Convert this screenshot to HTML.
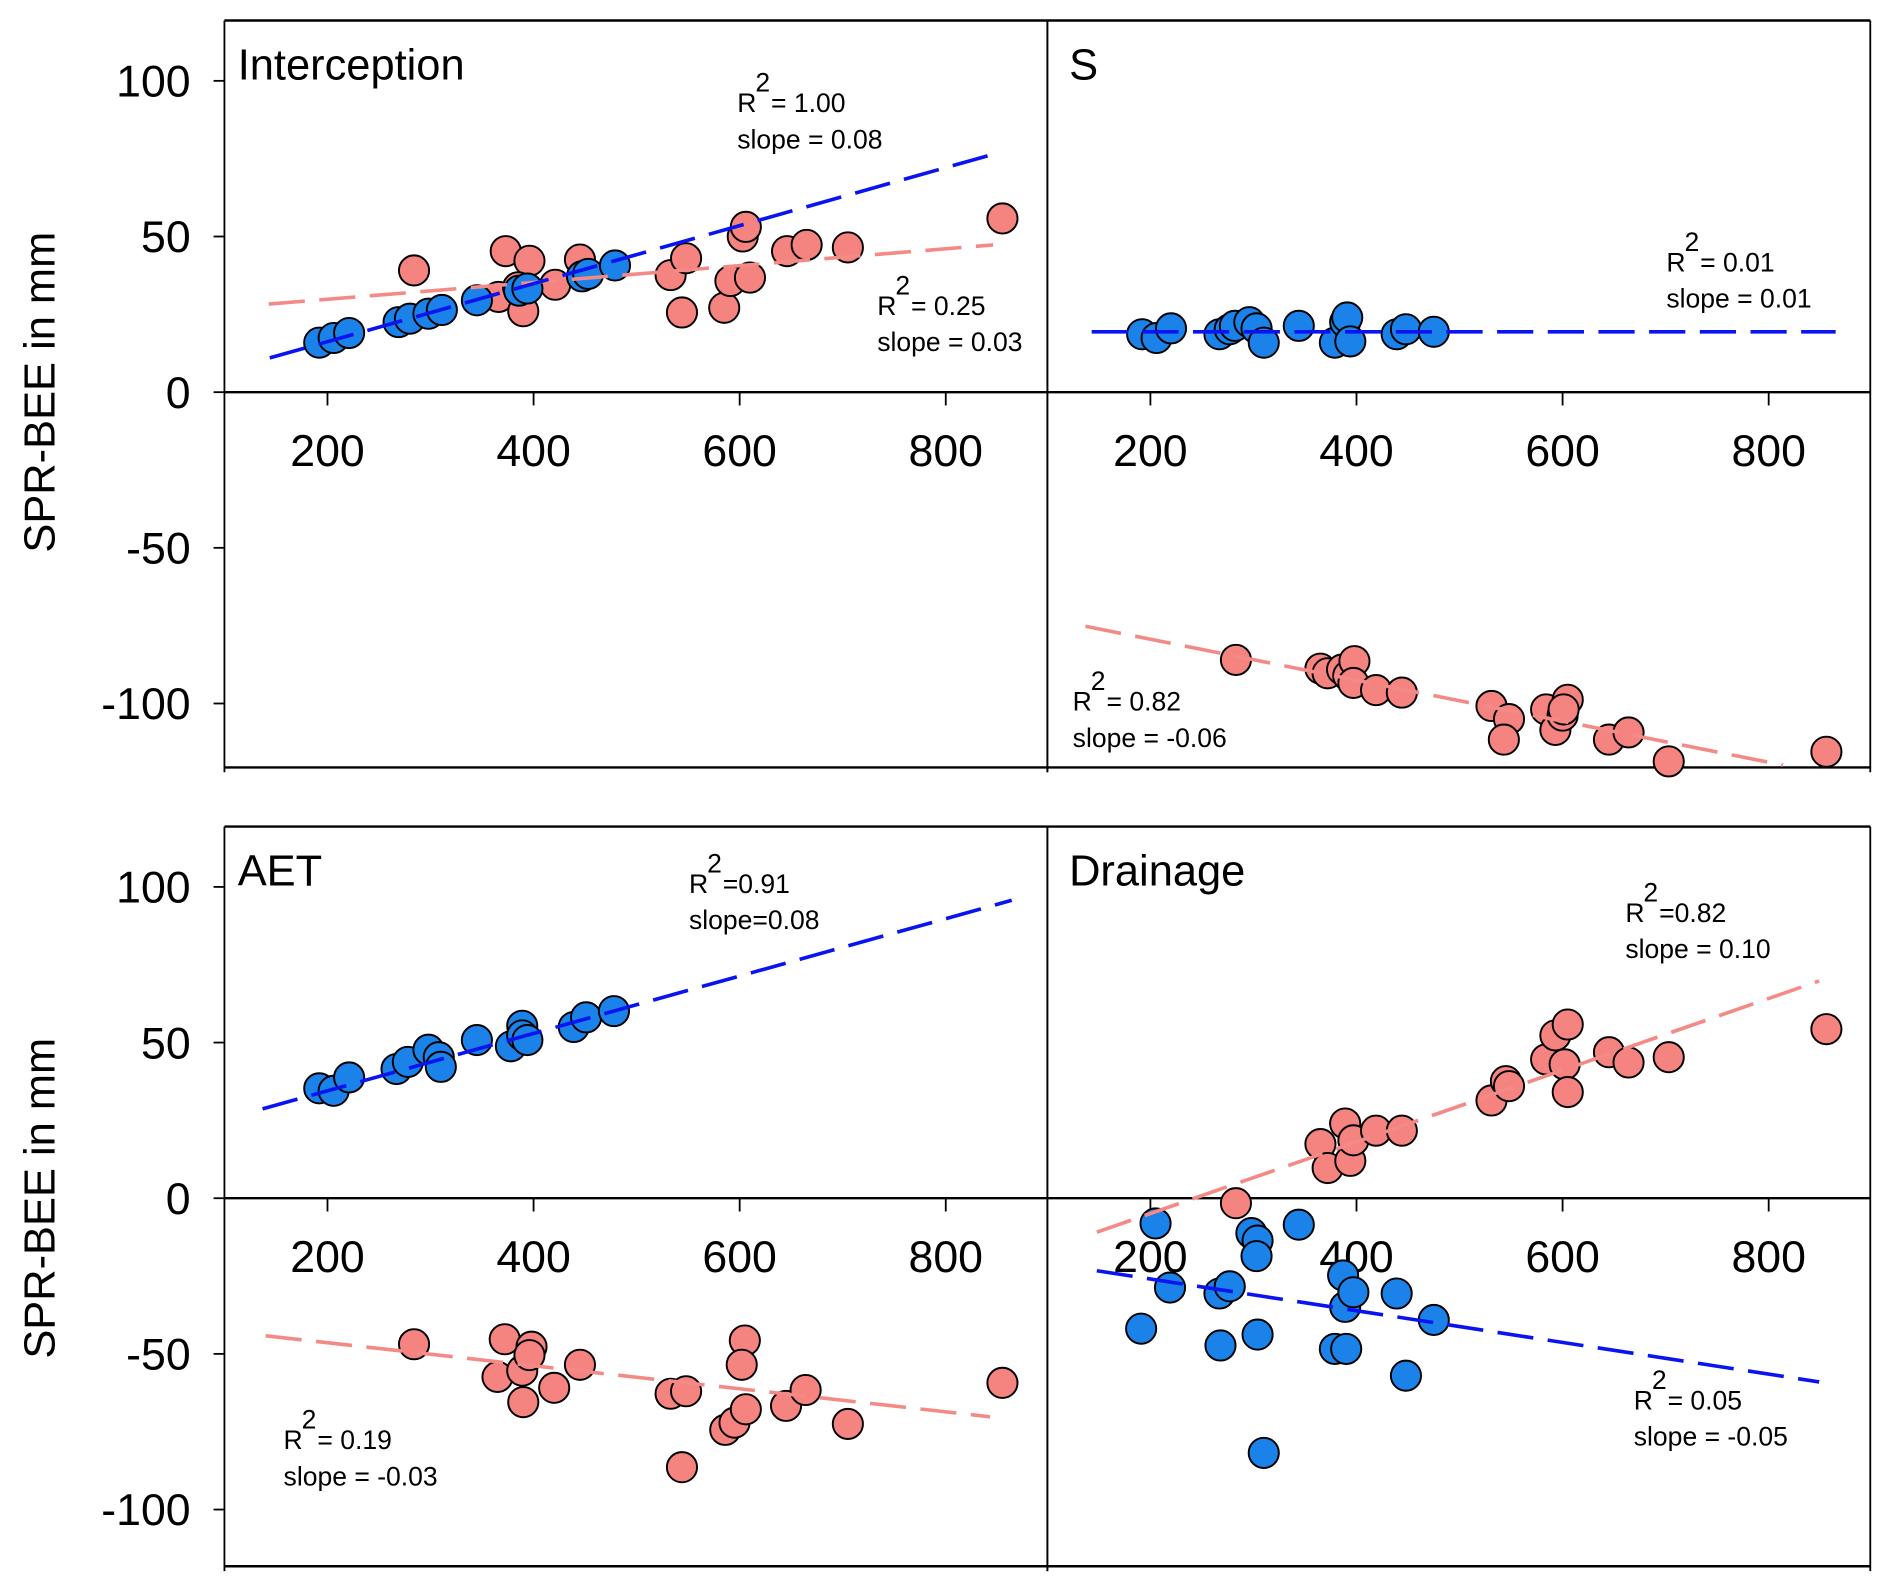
<!DOCTYPE html>
<html><head><meta charset="utf-8"><style>
html,body{margin:0;padding:0;background:#fff;}
svg{display:block;font-family:"Liberation Sans",Arial,sans-serif;}
</style></head><body>
<svg id="chart" width="1892" height="1591" viewBox="0 0 1568 1318.5" preserveAspectRatio="none" xmlns="http://www.w3.org/2000/svg"></svg>
<script>
const xTicks=[200,400,600,800];
const yTicks=[100,50,0,-50,-100];
// Interception
const intBlueX=[192,206,221,269,280,298,311,345,386,394,447,453,479];
const intBlueY=[15.9,17.4,19,22.5,23.6,25.2,26.4,29.5,32.6,33.3,37.2,38,40.7];
const intRedX=[284,373,396,366,390,385,421,445,533,548,544,585,603,606,591,646,665,705,855,610];
const intRedY=[39.1,45.3,42.2,30.6,26,33.7,34.5,42.6,37.6,43,25.6,27.1,50,53.1,35.7,45.3,47.3,46.5,55.8,36.8];
const intBlueFit=[[144,11],[849,76.7]];
const intRedFit=[[143,28.3],[846,47.3]];
// S
const sBlueX=[192,206,220,267,277,282,296,303,310,344,379,389,391,394,439,448,475];
const sBlueY=[18.6,17.4,20.5,18.6,20.2,21.3,22.5,20.5,15.9,21.3,15.9,22.5,24,16.3,18.6,20.2,19.4];
const sRedX=[283,365,372,386,392,398,397,419,444,531,548,543,584,593,600,605,601,645,664,703,856];
const sRedY=[-86,-88.8,-90.3,-89.1,-91.1,-86.4,-93.4,-95.7,-96.5,-100.8,-105,-111.6,-101.9,-108.5,-103.9,-98.8,-101.9,-111.6,-109.3,-118.6,-115.5];
const sBlueFit=[[143,19.4],[865,19.4]];
const sRedFit=[[137,-75.2],[814,-119.8]];
// AET
const aetBlueX=[192,206,221,267,278,298,308,310,345,378,389,389,394,439,451,478];
const aetBlueY=[35.3,34.5,38.8,41.5,43.8,47.7,45.3,42.2,50.8,48.8,55.4,52.3,50.8,55,58.1,60.1];
const aetRedX=[284,372,398,365,389,390,396,420,445,533,548,544,586,595,605,602,606,645,664,705,855];
const aetRedY=[-46.9,-45.3,-47.7,-57.4,-55.4,-65.5,-50.4,-60.9,-53.5,-62.8,-62,-86.4,-74.4,-72.1,-45.7,-53.5,-67.8,-66.7,-61.6,-72.5,-59.3];
const aetBlueFit=[[137,28.7],[864,95.7]];
const aetRedFit=[[140,-44.2],[843,-70.2]];
// Drainage
const drRedX=[283,365,372,389,394,397,419,444,531,545,548,584,593,602,605,605,645,664,703,856];
const drRedY=[-1.6,17.4,9.7,24,12,18.6,21.7,21.7,31.4,37.6,36,44.6,52.3,43,55.8,34.1,46.9,43.6,45.3,54.3];
const drBlueX=[205,219,191,267,277,268,298,304,303,344,387,389,397,304,379,390,439,448,475,310];
const drBlueY=[-8.1,-28.7,-41.9,-30.6,-28.3,-47.3,-11.2,-13.6,-18.6,-8.5,-24.8,-34.9,-30.2,-43.8,-48.4,-48.4,-30.6,-57,-39.1,-81.8];
const drRedFit=[[148,-10.9],[849,69.8]];
const drBlueFit=[[148,-23.3],[849,-59]];

const NS="http://www.w3.org/2000/svg";
const svg=document.getElementById('chart');
function el(tag,attrs,parent){const e=document.createElementNS(NS,tag);for(const k in attrs)e.setAttribute(k,attrs[k]);(parent||svg).appendChild(e);return e;}
function txt(str,attrs,parent){const e=el('text',attrs,parent);e.textContent=str;return e;}

const BLUE='#1a82e8',RED='#f58380',BL='#0a14f0',RL='#f48a86';
function xs(left){return v=>left+85.4+(v-200)*0.854;}
function ys(zero){return v=>zero-v*2.58;}

const panels=[
 {name:'interception',left:186,right:868,zero:325,top:17,bottom:636,title:'Interception',
  blue:[intBlueX,intBlueY],red:[intRedX,intRedY],bfit:intBlueFit,rfit:intRedFit,
  ann:[[611,93,'= 1.00','slope = 0.08'],[727,261,'= 0.25','slope = 0.03']]},
 {name:'s',left:868,right:1550,zero:325,top:17,bottom:636,title:'S',
  blue:[sBlueX,sBlueY],red:[sRedX,sRedY],bfit:sBlueFit,rfit:sRedFit,
  ann:[[1381,225,'= 0.01','slope = 0.01'],[889,589,'= 0.82','slope = -0.06']]},
 {name:'aet',left:186,right:868,zero:993,top:685,bottom:1298,title:'AET',
  blue:[aetBlueX,aetBlueY],red:[aetRedX,aetRedY],bfit:aetBlueFit,rfit:aetRedFit,
  ann:[[571,740,'=0.91','slope=0.08'],[235,1201,'= 0.19','slope = -0.03']]},
 {name:'drainage',left:868,right:1550,zero:993,top:685,bottom:1298,title:'Drainage',
  blue:[drBlueX,drBlueY],red:[drRedX,drRedY],bfit:drBlueFit,rfit:drRedFit,
  ann:[[1347,764,'=0.82','slope = 0.10'],[1354,1168,'= 0.05','slope = -0.05']]}
];

panels.forEach((p,i)=>{
  const g=el('g',{});
  
  
  const X=xs(p.left),Y=ys(p.zero);
  const cid='clip'+i;
  const cp=el('clipPath',{id:cid},g);el('rect',{x:p.left,y:p.top,width:p.right-p.left,height:p.bottom-p.top+12},cp);
  el('line',{x1:p.left,y1:p.top,x2:p.right,y2:p.top,stroke:'#000','stroke-width':2},g);
  el('line',{x1:p.left,y1:p.bottom,x2:p.right,y2:p.bottom,stroke:'#000','stroke-width':2},g);
  el('line',{x1:p.left,y1:p.top,x2:p.left,y2:p.bottom+4,stroke:'#000','stroke-width':1.5},g);
  el('line',{x1:p.right,y1:p.top,x2:p.right,y2:p.bottom+4,stroke:'#000','stroke-width':1.5},g);
  const ax=el('line',{x1:p.left,y1:p.zero,x2:p.right,y2:p.zero,stroke:'#000','stroke-width':2},g);
  
  
  xTicks.forEach(t=>{
    el('line',{x1:X(t),y1:p.zero,x2:X(t),y2:p.zero+11,stroke:'#000','stroke-width':1.5},g);
    const tl=txt(String(t),{x:X(t),y:p.zero+61,'font-size':37,'text-anchor':'middle'},g);
    
    
  });
  if(p.left===186){
    yTicks.forEach(t=>{
      el('line',{x1:p.left-9,y1:Y(t),x2:p.left,y2:Y(t),stroke:'#000','stroke-width':1.5},g);
      const tl=txt(String(t),{x:158,y:Y(t)+13,'font-size':37,'text-anchor':'end'},g);
      
      
    });
  }
  const tt=txt(p.title,{x:p.left+(p.left===186?11:18),y:p.top+49,'font-size':36},g);
  
  
  const cg=el('g',{'clip-path':'url(#'+cid+')'},g);
  function fit(f,col,nm){
    const l=el('line',{x1:X(f[0][0]),y1:Y(f[0][1]),x2:X(f[1][0]),y2:Y(f[1][1]),stroke:col,'stroke-width':3,'stroke-dasharray':'30 12'},cg);
    
    
  }
  function pts(d,col,nm){
    d[0].forEach((xv,k)=>{
      const c=el('circle',{cx:X(xv),cy:Y(d[1][k]),r:12.5,fill:col,stroke:'#000','stroke-width':1.6},cg);
      
      
    });
  }
  pts(p.red,RED,'red-point');
  pts(p.blue,BLUE,'blue-point');
  fit(p.rfit,RL,'red-fit-line');
  fit(p.bfit,BL,'blue-fit-line');
  p.ann.forEach(a=>{
    const ag=el('g',{},g);
    
    
    txt('R',{x:a[0],y:a[1],'font-size':22},ag);
    txt('2',{x:a[0]+15,y:a[1]-17,'font-size':22},ag);
    txt(a[2],{x:a[0]+28,y:a[1],'font-size':22},ag);
    txt(a[3],{x:a[0],y:a[1]+30,'font-size':22},ag);
  });
});
[325,993].forEach(cy=>{
  const t=txt('SPR-BEE in mm',{x:0,y:0,'font-size':36,'text-anchor':'middle',transform:'translate(45,'+cy+') rotate(-90)'});
  
  
});
</script>
</body></html>
